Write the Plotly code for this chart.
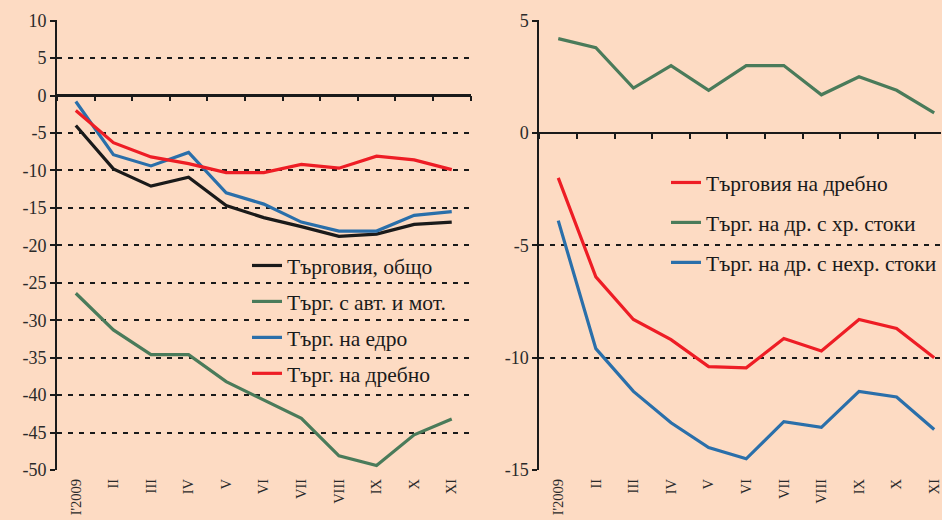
import plotly.graph_objects as go

months = ["I'2009", "II", "III", "IV", "V", "VI", "VII", "VIII", "IX", "X", "XI"]

# Left panel
trade_total = [-4.0, -9.8, -12.1, -10.9, -14.7, -16.3, -17.5, -18.8, -18.5, -17.2, -16.9]
trade_auto = [-26.4, -31.3, -34.6, -34.6, -38.2, -40.6, -43.1, -48.1, -49.4, -45.3, -43.2]
trade_wholesale = [-0.8, -7.9, -9.4, -7.6, -13.0, -14.5, -16.9, -18.1, -18.1, -16.0, -15.5]
trade_retail = [-2.0, -6.3, -8.2, -9.1, -10.3, -10.3, -9.2, -9.7, -8.1, -8.6, -9.9]

# Right panel
retail_total = [-2.0, -6.4, -8.3, -9.2, -10.4, -10.45, -9.15, -9.7, -8.3, -8.7, -10.0]
retail_food = [4.2, 3.8, 2.0, 3.0, 1.9, 3.0, 3.0, 1.7, 2.5, 1.9, 0.9]
retail_nonfood = [-3.9, -9.6, -11.5, -12.9, -14.0, -14.5, -12.85, -13.1, -11.5, -11.75, -13.2]

left_ticks = list(range(-50, 11, 5))
right_ticks = list(range(-15, 6, 5))

BG = "#FDDBC3"
BLACK = "#1a1a1a"
GREEN = "#4A7B5A"
BLUE = "#2A6FAA"
RED = "#EE1D25"
FONT = "Liberation Serif"

W, H = 942, 520
ML, MR, MT, MB = 57, 0, 20, 50
plot_w = W - ML - MR
plot_h = H - MT - MB
left_end = 471
right_start = 540
band = (left_end - ML) / len(months)

fig = go.Figure()

def add_line(x, y, name, color, xa, ya, legend):
    fig.add_trace(go.Scatter(
        x=x, y=y, name=name, mode="lines",
        line=dict(color=color, width=3.2),
        xaxis=xa, yaxis=ya, legend=legend, legendgroup=name,
        hoverinfo="skip",
    ))

add_line(months, trade_total, "Търговия, общо", BLACK, "x", "y", "legend")
add_line(months, trade_auto, "Търг. с авт. и мот.", GREEN, "x", "y", "legend")
add_line(months, trade_wholesale, "Търг. на едро", BLUE, "x", "y", "legend")
add_line(months, trade_retail, "Търг. на дребно", RED, "x", "y", "legend")

add_line(months, retail_total, "Търговия на дребно", RED, "x2", "y2", "legend2")
add_line(months, retail_food, "Търг. на др. с хр. стоки", GREEN, "x2", "y2", "legend2")
add_line(months, retail_nonfood, "Търг. на др. с нехр. стоки", BLUE, "x2", "y2", "legend2")

# invisible helper traces so the zero-line tick axes are drawn
fig.add_trace(go.Scatter(x=months, y=[None] * len(months), xaxis="x3", yaxis="y",
                         showlegend=False, hoverinfo="skip", mode="lines"))
fig.add_trace(go.Scatter(x=months, y=[None] * len(months), xaxis="x4", yaxis="y2",
                         showlegend=False, hoverinfo="skip", mode="lines"))

d1 = [0, (left_end - ML) / plot_w]
d2 = [(right_start - ML) / plot_w, 1]
right_range_end = -0.5 + (W - right_start) / band

yax_common = dict(
    showline=True, linecolor=BLACK, linewidth=2,
    ticks="outside", ticklen=5, tickwidth=1.5, tickcolor=BLACK,
    showgrid=True, gridcolor=BLACK, gridwidth=2, griddash="5px,6px",
    zeroline=True, zerolinecolor=BLACK, zerolinewidth=2,
    tickfont=dict(family=FONT, size=18, color="#2a2a2a"),
    automargin=False,
)
xlab_common = dict(
    type="category", categoryarray=months, categoryorder="array",
    showline=False, showgrid=False, zeroline=False, ticks="",
    tickangle=-90, tickfont=dict(family=FONT, size=14.5, color="#2a2a2a"),
    ticklabelstandoff=5, automargin=False,
)
xzero_common = dict(
    type="category", categoryarray=months, categoryorder="array",
    showline=True, linecolor=BLACK, linewidth=2, showgrid=False, zeroline=False,
    ticks="outside", ticklen=5, tickwidth=1.5, tickcolor=BLACK, tickson="boundaries",
    showticklabels=False, anchor="free", side="bottom", automargin=False,
)

lpad = 0.08  # tiny headroom so the top dashed gridline is kept
rpad = 0.03

fig.update_layout(
    width=W, height=H,
    margin=dict(l=ML, r=MR, t=MT, b=MB),
    paper_bgcolor=BG, plot_bgcolor=BG,
    font=dict(family=FONT, color=BLACK),
    xaxis=dict(domain=d1, range=[-0.5, len(months) - 0.5], anchor="y", **xlab_common),
    xaxis2=dict(domain=d2, range=[-0.5, right_range_end], anchor="y2", **xlab_common),
    xaxis3=dict(domain=d1, range=[-0.5, len(months) - 0.5], overlaying="x",
                position=(0 - left_ticks[0]) / (left_ticks[-1] + lpad - left_ticks[0]), **xzero_common),
    xaxis4=dict(domain=d2, range=[-0.5, right_range_end], overlaying="x2",
                position=(0 - right_ticks[0]) / (right_ticks[-1] + rpad - right_ticks[0]), **xzero_common),
    yaxis=dict(range=[left_ticks[0], left_ticks[-1] + lpad], tickvals=left_ticks,
               ticktext=[str(v) for v in left_ticks], anchor="x", **yax_common),
    yaxis2=dict(range=[right_ticks[0], right_ticks[-1] + rpad], tickvals=right_ticks,
                ticktext=[str(v) for v in right_ticks], anchor="x2", **yax_common),
    legend=dict(x=(247 - ML) / plot_w, y=1 - (245 - MT) / plot_h, xanchor="left", yanchor="top",
                bgcolor="rgba(0,0,0,0)", font=dict(family=FONT, size=21.5, color=BLACK),
                tracegroupgap=5, traceorder="grouped"),
    legend2=dict(x=(667 - ML) / plot_w, y=1 - (162 - MT) / plot_h, xanchor="left", yanchor="top",
                 bgcolor="rgba(0,0,0,0)", font=dict(family=FONT, size=21.5, color=BLACK),
                 tracegroupgap=9, traceorder="grouped"),
    showlegend=True,
)

fig.write_html(
    "out.html",
    config={"displayModeBar": False},
    post_script="document.body.style.margin='0';document.body.style.overflow='hidden';",
)
